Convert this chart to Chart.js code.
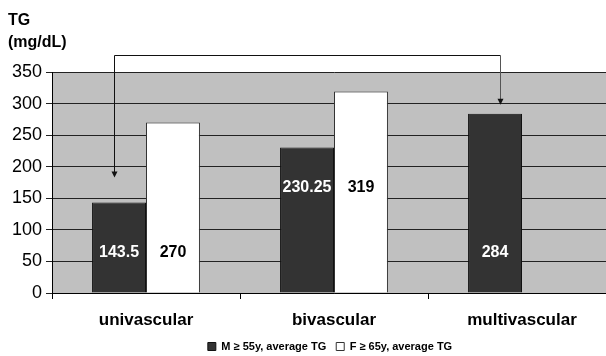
<!DOCTYPE html>
<html lang="en">
<head>
    <meta charset="UTF-8">
    <title>TG by vascular involvement</title>
    <script src="https://cdn.jsdelivr.net/npm/chart.js"></script>
    <style>
        body {
            margin: 0;
            overflow: hidden;
            background: #fff;
            font-family: "Liberation Sans", Arial, sans-serif;
        }

        .chart-container {
            position: relative;
            width: 660px;
            height: 362px;
        }
    </style>
</head>
<body>

    <div class="chart-container">
        <canvas id="chart"></canvas>
    </div>

    <script>
        // values
        const categories = ['univascular', 'bivascular', 'multivascular'];
        const maleTG = [143.5, 230.25, 284];
        const femaleTG = [270, 319, null];
        const seriesNames = ['M \u2265 55y, average TG', 'F \u2265 65y, average TG'];
        const axisTitle = ['TG', '(mg/dL)'];

        const FONT = '"Liberation Sans", Arial, sans-serif';

        // grey plot background + axis title
        const backdrop = {
            id: 'backdrop',
            afterLayout(chart) {
                // nudge the legend so it sits centred under the visible part
                chart.legend.left += 22;
                chart.legend.right += 22;
            },
            beforeDraw(chart) {
                const { ctx, chartArea: a } = chart;
                ctx.save();
                ctx.fillStyle = '#c0c0c0';
                ctx.fillRect(a.left, a.top, a.right - a.left, a.bottom - a.top);
                ctx.fillStyle = '#000';
                ctx.font = 'bold 16px ' + FONT;
                ctx.textBaseline = 'middle';
                ctx.fillText(axisTitle[0], 8, 21);
                ctx.fillText(axisTitle[1], 8, 43);
                ctx.restore();
            }
        };

        // value labels inside the bars (Excel put them at odd heights)
        const labelLevel = [64, 167, 64];
        const barLabels = {
            id: 'barLabels',
            afterDatasetsDraw(chart) {
                const { ctx } = chart;
                const y = chart.scales.y;
                ctx.save();
                ctx.font = 'bold 16px ' + FONT;
                ctx.textAlign = 'center';
                ctx.textBaseline = 'middle';
                chart.data.datasets.forEach((ds, di) => {
                    const meta = chart.getDatasetMeta(di);
                    ds.data.forEach((v, i) => {
                        if (v == null) return;
                        ctx.fillStyle = di === 0 ? '#fff' : '#000';
                        ctx.fillText(String(v), meta.data[i].x, y.getPixelForValue(labelLevel[i]));
                    });
                });
                ctx.restore();
            }
        };

        // bracket arrow from multivascular back to univascular
        const bracket = {
            id: 'bracket',
            afterDraw(chart) {
                const { ctx } = chart;
                const xs = chart.scales.x, ys = chart.scales.y;
                const step = xs.getPixelForValue(1) - xs.getPixelForValue(0);
                const x1 = Math.round(xs.getPixelForValue(0) - 0.17 * step) + 0.5;
                const x2 = Math.round(xs.getPixelForValue(2) - 0.117 * step) + 0.5;
                const yTop = Math.round(ys.getPixelForValue(377)) + 0.5;
                const y1 = ys.getPixelForValue(183);
                const y2 = ys.getPixelForValue(298);
                ctx.save();
                ctx.lineWidth = 1;
                ctx.strokeStyle = '#111';
                ctx.beginPath();
                ctx.moveTo(x1, y1 - 5);
                ctx.lineTo(x1, yTop);
                ctx.lineTo(x2, yTop);
                ctx.stroke();
                ctx.strokeStyle = '#555';
                ctx.beginPath();
                ctx.moveTo(x2, yTop);
                ctx.lineTo(x2, y2 - 5);
                ctx.stroke();
                ctx.fillStyle = '#111';
                [[x1, y1], [x2, y2]].forEach(([x, yy]) => {
                    ctx.beginPath();
                    ctx.moveTo(x - 3, yy - 6);
                    ctx.lineTo(x + 3, yy - 6);
                    ctx.lineTo(x, yy);
                    ctx.closePath();
                    ctx.fill();
                });
                ctx.restore();
            }
        };

        new Chart(document.getElementById('chart'), {
            type: 'bar',
            data: {
                labels: categories,
                datasets: [{
                    label: seriesNames[0],
                    data: maleTG,
                    backgroundColor: '#333333',
                    borderColor: '#111',
                    borderWidth: 1
                }, {
                    label: seriesNames[1],
                    data: femaleTG,
                    backgroundColor: '#ffffff',
                    borderColor: '#333',
                    borderWidth: 1
                }]
            },
            options: {
                responsive: true,
                maintainAspectRatio: false,
                animation: false,
                categoryPercentage: 0.574,
                barPercentage: 1.0,
                layout: { padding: { top: 72, left: 0, right: 44, bottom: 0 } },
                plugins: {
                    tooltip: { enabled: false },
                    legend: {
                        position: 'bottom',
                        labels: {
                            boxWidth: 8,
                            boxHeight: 8,
                            padding: 10,
                            color: '#000',
                            font: { family: FONT, size: 11, weight: 'bold' }
                        }
                    }
                },
                scales: {
                    x: {
                        grid: { drawOnChartArea: false, drawTicks: true, tickLength: 6, color: '#000', offset: true },
                        border: { color: '#000', width: 1 },
                        ticks: { color: '#000', padding: 11, font: { family: FONT, size: 17, weight: 'bold' } },
                        afterFit(s) { s.height = 38; }
                    },
                    y: {
                        min: 0,
                        max: 350,
                        ticks: { stepSize: 50, color: '#000', padding: 4, font: { family: FONT, size: 18 } },
                        grid: { color: '#222', tickLength: 6, drawTicks: true },
                        border: { color: '#000', width: 1 },
                        afterFit(s) { s.width = 52; }
                    }
                }
            },
            plugins: [backdrop, barLabels, bracket]
        });
    </script>

</body>
</html>
